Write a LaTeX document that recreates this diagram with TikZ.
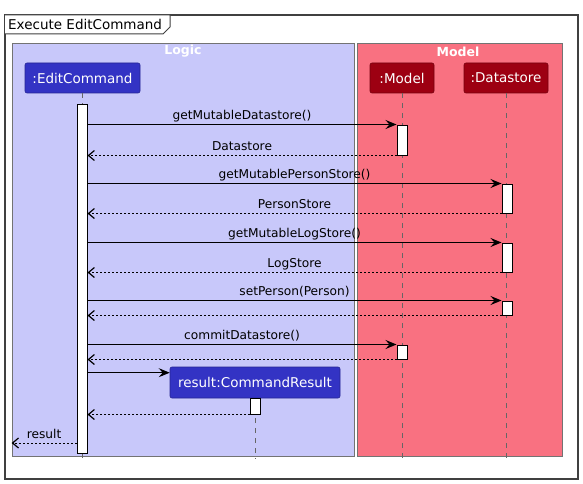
\documentclass[tikz,border=0pt]{standalone}
\usepackage{fontspec}
\setmainfont{DejaVu Sans}
\usetikzlibrary{arrows.meta}
\definecolor{logicT}{HTML}{C8C8FA}
\definecolor{logicC}{HTML}{3333C4}
\definecolor{modelT}{HTML}{F97181}
\definecolor{modelC}{HTML}{9D0012}
\newcommand{\partfnt}{\fontsize{13.5}{16}\selectfont}
\newcommand{\msgfnt}{\fontsize{12.2}{14}\selectfont}
\tikzset{
  grpbox/.style={rectangle, draw=gray!90!black, line width=0.8pt, inner sep=0pt},
  grptitle/.style={text=white, font=\fontsize{12.5}{14}\selectfont\bfseries, inner sep=0pt},
  part/.style={rectangle, rounded corners=2pt, minimum height=30pt, inner sep=0pt, text=white, font=\partfnt, line width=0.6pt},
  lpart/.style={part, fill=logicC, draw=logicC!75!black},
  mpart/.style={part, fill=modelC, draw=modelC!75!black},
  act/.style={rectangle, draw=black, fill=white, line width=1pt, minimum width=10pt, inner sep=0pt},
  life/.style={draw=black!60, dash pattern=on 5pt off 5pt, line width=0.8pt},
  sync/.style={-{Stealth[length=11pt,width=9pt,inset=4pt]}, line width=1pt},
  ret/.style={-{Straight Barb[length=6pt,width=10pt,line width=1.2pt]}, dash pattern=on 2pt off 2pt, line width=0.8pt},
  lbl/.style={font=\msgfnt, above, inner sep=1.5pt, text depth=3pt},
}
\begin{document}
\begin{tikzpicture}[x=1pt, y=-1pt]
\useasboundingbox (0,0) rectangle (583,484);
% outer frame
\node[rectangle, draw=black!75, line width=1.5pt, minimum width=573pt, minimum height=464pt, inner sep=0pt] (frame) at (291.5,247) {};
\draw[black!75, line width=1pt, fill=white] (5,15) -- (170,15) -- (170,27) -- (163,34) -- (5,34);
\node[anchor=west, font=\partfnt, inner sep=0pt] (ftitle) at (8,24.5) {Execute EditCommand};
% group boxes
\node[grpbox, fill=logicT, minimum width=342pt, minimum height=413pt] (logic) at (183,249.5) {};
\node[grpbox, fill=modelT, minimum width=205pt, minimum height=413pt] (model) at (459.5,249.5) {};
\node[grptitle] (logict) at (183,51.5) {Logic};
\node[grptitle] (modelt) at (458,51.5) {Model};
% participants
\node[lpart, minimum width=115pt] (ec) at (82.5,78) {:EditCommand};
\node[mpart, minimum width=64pt] (mo) at (402,78) {:Model};
\node[mpart, minimum width=84pt] (ds) at (506,78) {:Datastore};
\node[lpart, minimum width=170pt, minimum height=31pt] (crn) at (255,382.5) {result:CommandResult};
% lifelines
\draw[life] (ec.south) -- (ec.south |- 0,459);
\draw[life] (mo.south) -- (mo.south |- 0,459);
\draw[life] (ds.south) -- (ds.south |- 0,459);
\draw[life] (crn.south) -- (crn.south |- 0,459);
% activations
\node[act, minimum height=348pt] (ea) at (82,279) {};
\node[act, minimum height=30pt] (m1) at (402,140) {};
\node[act, minimum height=29pt] (d1) at (507,198.5) {};
\node[act, minimum height=29pt] (d2) at (507,257.5) {};
\node[act, minimum height=14pt] (d3) at (507,308) {};
\node[act, minimum height=14pt] (m2) at (402,352) {};
\node[act, minimum height=16pt] (ca) at (255.5,406) {};
% messages
\draw[sync] (ea.east |- m1.north) -- node[lbl] {getMutableDatastore()} (m1.north west);
\draw[ret] (m1.south west) -- node[lbl] {Datastore} (ea.east |- m1.south);
\draw[sync] (ea.east |- d1.north) -- node[lbl] {getMutablePersonStore()} (d1.north west);
\draw[ret] (d1.south west) -- node[lbl] {PersonStore} (ea.east |- d1.south);
\draw[sync] (ea.east |- d2.north) -- node[lbl] {getMutableLogStore()} (d2.north west);
\draw[ret] (d2.south west) -- node[lbl] {LogStore} (ea.east |- d2.south);
\draw[sync] (ea.east |- d3.north) -- node[lbl] {setPerson(Person)} (d3.north west);
\draw[ret] (d3.south west) -- (ea.east |- d3.south);
\draw[sync] (ea.east |- m2.north) -- node[lbl] {commitDatastore()} (m2.north west);
\draw[ret] (m2.south west) -- (ea.east |- m2.south);
\coordinate (cre) at ([yshift=-6pt]crn.north west);
\draw[sync] (ea.east |- cre) -- (cre);
\draw[ret] (ca.south west) -- (ea.east |- ca.south);
\coordinate (resy) at (0,443);
\draw[ret] (ea.west |- resy) -- node[lbl] {result} (logic.west |- resy);
\end{tikzpicture}
\end{document}
